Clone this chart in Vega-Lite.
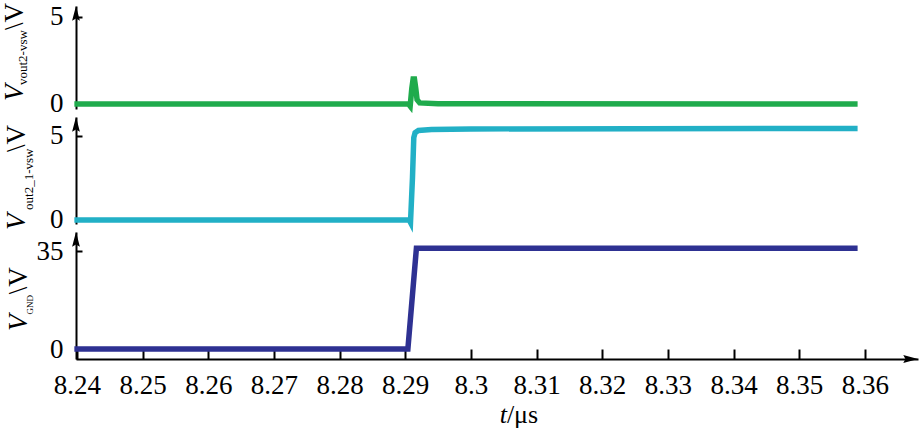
{
  "$schema": "https://vega.github.io/schema/vega-lite/v6.json",
  "padding": {"left": 1, "top": 2, "right": 0, "bottom": 0},
  "background": "white",
  "spacing": 8,
  "bounds": "flush",
  "config": {
    "font": "Liberation Serif",
    "view": {"stroke": null},
    "style": {"guide-label": {"font": "Liberation Serif", "fontSize": 27, "fill": "black"}},
    "axis": {
      "grid": false,
      "domainColor": "black",
      "domainWidth": 2,
      "tickColor": "black",
      "tickWidth": 2,
      "labelFont": "Liberation Serif",
      "labelFontSize": 27,
      "labelColor": "black",
      "labelOverlap": false,
      "labelFlush": false,
      "labelBound": false,
      "title": null
    },
    "axisY": {"tickSize": -6, "labelPadding": 19},
    "axisX": {"tickSize": -10, "labelPadding": 23}
  },
  "datasets": {
    "green": [
      {"t": 8.2396, "v": 0}, {"t": 8.2905, "v": 0}, {"t": 8.29075, "v": -0.12},
      {"t": 8.2910, "v": 0.9}, {"t": 8.2912, "v": 1.44}, {"t": 8.2914, "v": 1.44},
      {"t": 8.2916, "v": 0.9}, {"t": 8.2918, "v": 0.25}, {"t": 8.2922, "v": 0.06},
      {"t": 8.295, "v": 0.01}, {"t": 8.3589, "v": 0}
    ],
    "cyan": [
      {"t": 8.2396, "v": 0}, {"t": 8.2906, "v": 0}, {"t": 8.2908, "v": -0.15},
      {"t": 8.2911, "v": 2.5}, {"t": 8.2913, "v": 4.9}, {"t": 8.2915, "v": 5.2},
      {"t": 8.2920, "v": 5.33}, {"t": 8.294, "v": 5.38}, {"t": 8.30, "v": 5.42},
      {"t": 8.3589, "v": 5.45}
    ],
    "blue": [
      {"t": 8.2396, "v": 0}, {"t": 8.2904, "v": 0}, {"t": 8.2917, "v": 36}, {"t": 8.3589, "v": 36}
    ],
    "one": [{}]
  },
  "vconcat": [
    {
      "width": 842, "height": 103,
      "layer": [
        {
          "data": {"name": "green"},
          "mark": {"type": "line", "color": "#1fab4c", "strokeWidth": 5.5},
          "encoding": {
            "x": {"field": "t", "type": "quantitative", "scale": {"domain": [8.23985, 8.3681], "nice": false, "zero": false}, "axis": null},
            "y": {"field": "v", "type": "quantitative", "scale": {"domain": [-0.29, 5.63], "nice": false, "zero": false}, "axis": {"values": [0, 5], "labelFont": "Liberation Serif"}}
          }
        },
        {
          "data": {"name": "one"},
          "mark": {"type": "point", "shape": "M0,-1L0.45,0.7L0,0.45L-0.45,0.7Z", "size": 300, "filled": true, "color": "black", "opacity": 1, "strokeWidth": 0, "yOffset": 8.66},
          "encoding": {"x": {"datum": 8.23985, "type": "quantitative"}, "y": {"datum": 5.63, "type": "quantitative"}}
        },
        {
          "data": {"name": "one"},
          "mark": {"type": "text", "text": "V", "font": "Liberation Serif", "fontSize": 27, "fontStyle": "italic", "angle": 270, "align": "left", "baseline": "alphabetic", "color": "black"},
          "encoding": {"x": {"datum": 8.23178, "type": "quantitative"}, "y": {"datum": 0.17, "type": "quantitative"}}
        },
        {
          "data": {"name": "one"},
          "mark": {"type": "text", "text": "vout2-vsw", "font": "Liberation Serif", "fontSize": 13, "angle": 270, "align": "left", "baseline": "alphabetic", "color": "black"},
          "encoding": {"x": {"datum": 8.23239, "type": "quantitative"}, "y": {"datum": 1.09, "type": "quantitative"}}
        },
        {
          "data": {"name": "one"},
          "mark": {"type": "text", "text": "\\V", "font": "Liberation Serif", "fontSize": 27, "angle": 270, "align": "left", "baseline": "alphabetic", "color": "black"},
          "encoding": {"x": {"datum": 8.23178, "type": "quantitative"}, "y": {"datum": 4.25, "type": "quantitative"}}
        }
      ]
    },
    {
      "width": 842, "height": 107,
      "layer": [
        {
          "data": {"name": "cyan"},
          "mark": {"type": "line", "color": "#22b0c6", "strokeWidth": 5.5},
          "encoding": {
            "x": {"field": "t", "type": "quantitative", "scale": {"domain": [8.23985, 8.3681], "nice": false, "zero": false}, "axis": null},
            "y": {"field": "v", "type": "quantitative", "scale": {"domain": [-0.24, 6.13], "nice": false, "zero": false}, "axis": {"values": [0, 5], "labelFont": "Liberation Serif"}}
          }
        },
        {
          "data": {"name": "one"},
          "mark": {"type": "point", "shape": "M0,-1L0.45,0.7L0,0.45L-0.45,0.7Z", "size": 300, "filled": true, "color": "black", "opacity": 1, "strokeWidth": 0, "yOffset": 8.66},
          "encoding": {"x": {"datum": 8.23985, "type": "quantitative"}, "y": {"datum": 6.13, "type": "quantitative"}}
        },
        {
          "data": {"name": "one"},
          "mark": {"type": "text", "text": "V", "font": "Liberation Serif", "fontSize": 27, "fontStyle": "italic", "angle": 270, "align": "left", "baseline": "alphabetic", "color": "black"},
          "encoding": {"x": {"datum": 8.23208, "type": "quantitative"}, "y": {"datum": -0.595, "type": "quantitative"}}
        },
        {
          "data": {"name": "one"},
          "mark": {"type": "text", "text": "out2_1-vsw", "font": "Liberation Serif", "fontSize": 13, "angle": 270, "align": "left", "baseline": "alphabetic", "color": "black"},
          "encoding": {"x": {"datum": 8.2333, "type": "quantitative"}, "y": {"datum": 0.595, "type": "quantitative"}}
        },
        {
          "data": {"name": "one"},
          "mark": {"type": "text", "text": "\\V", "font": "Liberation Serif", "fontSize": 27, "angle": 270, "align": "left", "baseline": "alphabetic", "color": "black"},
          "encoding": {"x": {"datum": 8.23208, "type": "quantitative"}, "y": {"datum": 4.05, "type": "quantitative"}}
        }
      ]
    },
    {
      "width": 842, "height": 127,
      "layer": [
        {
          "data": {"name": "blue"},
          "mark": {"type": "line", "color": "#2e3192", "strokeWidth": 5.5},
          "encoding": {
            "x": {"field": "t", "type": "quantitative", "scale": {"domain": [8.23985, 8.3681], "nice": false, "zero": false},
                  "axis": {"values": [8.24, 8.25, 8.26, 8.27, 8.28, 8.29, 8.3, 8.31, 8.32, 8.33, 8.34, 8.35, 8.36], "format": ".2~f", "labelFont": "Liberation Serif", "labelOverlap": false, "labelFlush": false}},
            "y": {"field": "v", "type": "quantitative", "scale": {"domain": [-3.57, 41.8], "nice": false, "zero": false}, "axis": {"values": [0, 35], "labelFont": "Liberation Serif"}}
          }
        },
        {
          "data": {"name": "one"},
          "mark": {"type": "point", "shape": "M0,-1L0.45,0.7L0,0.45L-0.45,0.7Z", "size": 300, "filled": true, "color": "black", "opacity": 1, "strokeWidth": 0, "yOffset": 8.66},
          "encoding": {"x": {"datum": 8.23985, "type": "quantitative"}, "y": {"datum": 41.8, "type": "quantitative"}}
        },
        {
          "data": {"name": "one"},
          "mark": {"type": "point", "shape": "M1,0L-0.7,0.45L-0.45,0L-0.7,-0.45Z", "size": 300, "filled": true, "color": "black", "opacity": 1, "strokeWidth": 0, "xOffset": -8.66},
          "encoding": {"x": {"datum": 8.3681, "type": "quantitative"}, "y": {"datum": -3.57, "type": "quantitative"}}
        },
        {
          "data": {"name": "one"},
          "mark": {"type": "text", "text": "V", "font": "Liberation Serif", "fontSize": 27, "fontStyle": "italic", "angle": 270, "align": "left", "baseline": "alphabetic", "color": "black"},
          "encoding": {"x": {"datum": 8.23239, "type": "quantitative"}, "y": {"datum": 6.43, "type": "quantitative"}}
        },
        {
          "data": {"name": "one"},
          "mark": {"type": "text", "text": "GND", "font": "Liberation Serif", "fontSize": 9, "angle": 270, "align": "left", "baseline": "alphabetic", "color": "black"},
          "encoding": {"x": {"datum": 8.2333, "type": "quantitative"}, "y": {"datum": 12.3, "type": "quantitative"}}
        },
        {
          "data": {"name": "one"},
          "mark": {"type": "text", "text": "\\V", "font": "Liberation Serif", "fontSize": 27, "angle": 270, "align": "left", "baseline": "alphabetic", "color": "black"},
          "encoding": {"x": {"datum": 8.23239, "type": "quantitative"}, "y": {"datum": 19.6, "type": "quantitative"}}
        },
        {
          "data": {"name": "one"},
          "mark": {"type": "text", "text": "t", "font": "Liberation Serif", "fontSize": 26, "fontStyle": "italic", "align": "right", "baseline": "alphabetic", "color": "black"},
          "encoding": {"x": {"datum": 8.30548, "type": "quantitative"}, "y": {"datum": -26.3, "type": "quantitative"}}
        },
        {
          "data": {"name": "one"},
          "mark": {"type": "text", "text": "/μs", "font": "Liberation Serif", "fontSize": 26, "align": "left", "baseline": "alphabetic", "color": "black"},
          "encoding": {"x": {"datum": 8.30548, "type": "quantitative"}, "y": {"datum": -26.3, "type": "quantitative"}}
        }
      ]
    }
  ]
}
